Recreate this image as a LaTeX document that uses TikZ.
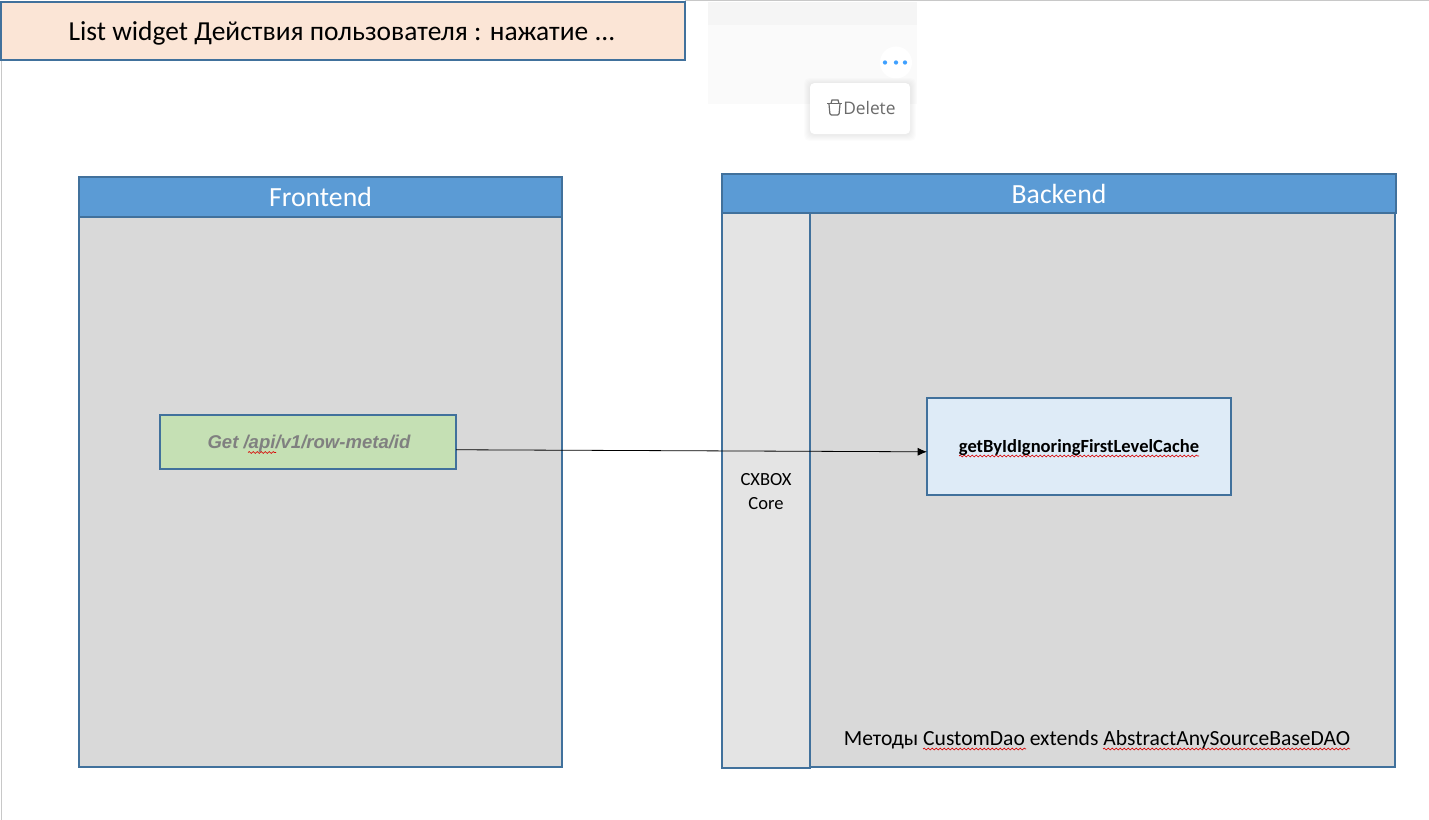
\documentclass[tikz,border=0pt]{standalone}
\usepackage{fontspec}
\setmainfont{Carlito}
\newfontfamily\argfont{Liberation Sans}
\newfontfamily\uifont{Open Sans}
\usetikzlibrary{arrows.meta,decorations.pathmorphing}
\definecolor{boxline}{HTML}{41719C}
\definecolor{headblue}{HTML}{5B9BD5}
\definecolor{panelgray}{HTML}{D9D9D9}
\definecolor{coregray}{HTML}{E4E4E4}
\definecolor{titlepeach}{HTML}{FBE5D6}
\definecolor{reqgreen}{HTML}{C5E0B4}
\definecolor{daoblue}{HTML}{DEEBF7}
\definecolor{edgegray}{HTML}{C8C8C8}
\definecolor{dotblue}{HTML}{3FA0FF}
\tikzset{
    boxbase/.style={draw=boxline, line width=1.5pt, outer sep=0pt, inner sep=0pt, align=center},
    panelbox/.style={boxbase, fill=panelgray},
    headbox/.style={boxbase, fill=headblue, text=white, font=\fontsize{20.8}{24}\selectfont},
    squiggle/.style={draw=red!85!black, line width=0.5pt, decorate,
        decoration={snake, amplitude=0.7pt, segment length=3pt, post length=0pt, pre length=0pt}},
}
\begin{document}
\begin{tikzpicture}[x=0.75pt, y=-0.75pt]
            \useasboundingbox (0,0) rectangle (1429,820);
            % window edges
            \coordinate (edgetop) at (685,1);
            \coordinate (edgeright) at (1429,1);
            \coordinate (edgeleft) at (1,60);
            \coordinate (edgebottom) at (1,820);
            \draw [edgegray, line width=0.75pt] (edgetop)-- (edgeright);
            \draw [edgegray, line width=0.75pt] (edgeleft)-- (edgebottom);
            % pasted screenshot
            \fill [black!4] (708,2) rectangle (917,25);
            \fill [black!2] (708,25) rectangle (917,104);
            \node (morebtn) [circle, fill=white, minimum size=24pt, inner sep=0pt] at (896,62.5) {};
            \foreach \dotx in {885,896,905} {
                \fill [dotblue] (\dotx,62.5) circle (1.6pt);
            }
            \foreach \grow in {1,...,6} {
                \fill [black, opacity=0.01, rounded corners=4pt] (810-\grow,83-\grow+1) rectangle (910+\grow,134+\grow+1);
            }
            \node (deletemenu) [rounded corners=3pt, fill=white, minimum width=75pt, minimum height=38pt] at (860,108.5) {};
            \node (deletetext) [text=black!58, font=\uifont\fontsize{13}{15}\selectfont, anchor=west, inner sep=0pt] at (843,108) {Delete};
            \draw [black!58, line width=0.9pt, rounded corners=1pt] (829,104)-- (830,115)-- (839,115)-- (840,104);
            \draw [black!58, line width=0.9pt] (827,103.5)-- (842,103.5);
            \draw [black!58, line width=0.9pt] (831,103.5)-- (832,100)-- (838,100)-- (839,103.5);
            % title
            \node (titlebox) [boxbase, fill=titlepeach, minimum width=513pt, minimum height=43.5pt] at (343,31) {};
            \node (titletext) [inner sep=0pt, font=\fontsize{20.6}{24}\selectfont] at (342,33) {List widget Действия пользователя : нажатие ...};
            % frontend
            \node (frontbody) [panelbox, minimum width=362pt, minimum height=412.5pt] at (320.5,492) {};
            \node (fronthead) [headbox, minimum width=362pt, minimum height=30pt] at (320.5,197) {Frontend};
            \node (getbox) [boxbase, fill=reqgreen, minimum width=222pt, minimum height=40.5pt] at (308,442) {};
            \node (gettext) [inner sep=0pt, text=black!50, font=\argfont\bfseries\itshape\fontsize{13.9}{16}\selectfont] at (309,444) {Get /api/v1/row-meta/id};
            % backend
            \node (daobody) [panelbox, minimum width=439pt, minimum height=416pt] at (1102.5,490) {};
            \node (corebody) [boxbase, fill=coregray, minimum width=66pt, minimum height=416.5pt] at (766,490.5) {};
            \node (backhead) [headbox, minimum width=505.5pt, minimum height=29pt] at (1059,193.5) {Backend};
            \node (coretext) [align=center, inner sep=0pt, font=\fontsize{13.9}{18}\selectfont] at (766,492) {CXBOX\\Core};
            \node (cachebox) [boxbase, fill=daoblue, minimum width=228pt, minimum height=72.5pt] at (1079,446.5) {};
            \node (cachetext) [inner sep=0pt, font=\bfseries\fontsize{13.9}{16}\selectfont] at (1079,448) {getByIdIgnoringFirstLevelCache};
            \node (daotext) [inner sep=0pt, font=\fontsize{16.2}{18}\selectfont] at (1097,740) {Методы CustomDao extends AbstractAnySourceBaseDAO};
            % spell check marks
            \draw [squiggle] (248,452.5)-- (276,452.5);
            \draw [squiggle] (959,456)-- (1199,456);
            \draw [squiggle] (923,749)-- (1026,749);
            \draw [squiggle] (1103,749)-- (1350,749);
            % call
            \draw [-{Latex[length=7pt,width=6pt]}, line width=0.6pt] (getbox.-3.1)-- (cachebox.182.07);
        \end{tikzpicture}
\end{document}
